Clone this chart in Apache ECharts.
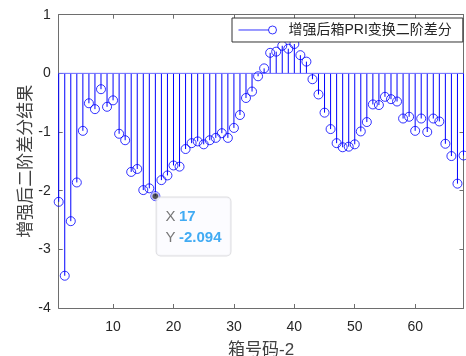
<!DOCTYPE html>
<html>
<head>
<meta charset="utf-8">
<script src="https://cdn.jsdelivr.net/npm/echarts@6/dist/echarts.min.js"></script>
<style>
  html, body { margin: 0; padding: 0; background: #fff; }
  #chart { width: 466px; height: 356px; }
</style>
</head>
<body>
<div id="chart"></div>
<script>
// Bin index (箱号码-2) and second-order difference of the enhanced box PRI transform
const binIndex = [];
for (let i = 1; i <= 68; i++) binIndex.push(i);

const diffValues = [
  -2.19, -3.45, -2.52, -1.86, -0.98, -0.51, -0.61, -0.27, -0.57, -0.46,
  -1.03, -1.14, -1.68, -1.63, -1.99, -1.96, -2.094, -1.82, -1.74, -1.57,
  -1.59, -1.29, -1.19, -1.16, -1.21, -1.14, -1.10, -1.02, -1.10, -0.93,
  -0.71, -0.42, -0.31, -0.05, 0.085, 0.35, 0.37, 0.47, 0.42, 0.50,
  0.31, 0.20, -0.10, -0.36, -0.67, -0.95, -1.19, -1.26, -1.25, -1.21,
  -0.99, -0.83, -0.53, -0.54, -0.40, -0.44, -0.48, -0.77, -0.74, -0.98,
  -0.77, -1.00, -0.77, -0.82, -1.20, -1.41, -1.88, -1.40
];

const xTicks = [10, 20, 30, 40, 50, 60];
const yTicks = [-4, -3, -2, -1, 0, 1];

const seriesName = '增强后箱PRI变换二阶差分';
const xTitle = '箱号码-2';
const yTitle = '增强后二阶差分结果';

// highlighted data tip
const tipIndex = 17;
const tipValue = diffValues[tipIndex - 1];

const stemColor = '#0000ff';
const baseColor = '#6a6aff';
const axisColor = '#6e6e6e';
const fontFamily = '"Liberation Sans", Arial, "Noto Sans CJK SC", sans-serif';

const points = binIndex.map((x, i) => [x, diffValues[i]]);
const baseline = [[binIndex[0], 0], [binIndex[binIndex.length - 1], 0]];

const chart = echarts.init(document.getElementById('chart'), null, { renderer: 'canvas' });

const axisCommon = {
  axisLine: { show: true, onZero: false, lineStyle: { color: axisColor, width: 1 } },
  splitLine: { show: false }
};

const option = {
  animation: false,
  backgroundColor: '#ffffff',
  grid: { left: 58.7, right: 2.5, top: 14.7, bottom: 48, outerBoundsMode: 'none', containLabel: false },
  legend: {
    data: [seriesName],
    left: 232,
    top: 18,
    padding: [5, 11, 5, 6],
    backgroundColor: '#ffffff',
    borderColor: '#333333',
    borderWidth: 1,
    borderRadius: 0,
    itemWidth: 38,
    itemHeight: 8,
    icon: 'path://M0,4L30,4M30,4A4,4,0,1,0,38,4A4,4,0,1,0,30,4',
    itemStyle: { color: 'rgba(0,0,0,0)', borderColor: stemColor, borderWidth: 1 },
    textStyle: { fontFamily: fontFamily, fontSize: 14, color: '#262626', padding: [0, 0, 0, 7] },
    selectedMode: false
  },
  xAxis: [
    Object.assign({
      type: 'value', min: 1, max: 68, position: 'bottom',
      name: xTitle, nameLocation: 'middle', nameGap: 34, nameMoveOverlap: false,
      nameTextStyle: { fontFamily: fontFamily, fontSize: 17, color: '#404040' },
      axisTick: { show: true, inside: true, length: 4, customValues: xTicks, lineStyle: { color: axisColor } },
      axisLabel: { show: true, customValues: xTicks, margin: 12, fontFamily: fontFamily, fontSize: 14, color: '#262626' }
    }, axisCommon),
    Object.assign({
      type: 'value', min: 1, max: 68, position: 'top',
      axisTick: { show: true, inside: true, length: 4, customValues: xTicks, lineStyle: { color: axisColor } },
      axisLabel: { show: false }
    }, axisCommon)
  ],
  yAxis: [
    Object.assign({
      type: 'value', min: -4, max: 1, interval: 1, position: 'left',
      name: yTitle, nameLocation: 'middle', nameGap: 24, nameRotate: 90, nameMoveOverlap: false,
      nameTextStyle: { fontFamily: fontFamily, fontSize: 17, color: '#404040' },
      axisTick: { show: true, inside: true, length: 4, customValues: yTicks, lineStyle: { color: axisColor } },
      axisLabel: { show: true, customValues: yTicks, margin: 8, fontFamily: fontFamily, fontSize: 14, color: '#262626' }
    }, axisCommon),
    Object.assign({
      type: 'value', min: -4, max: 1, interval: 1, position: 'right',
      axisTick: { show: true, inside: true, length: 4, customValues: yTicks, lineStyle: { color: axisColor } },
      axisLabel: { show: false }
    }, axisCommon)
  ],
  series: [
    {
      // zero baseline of the stem plot
      type: 'line',
      name: 'baseline',
      xAxisIndex: 0,
      yAxisIndex: 0,
      data: baseline,
      symbol: 'none',
      silent: true,
      itemStyle: { color: baseColor },
      lineStyle: { color: baseColor, width: 1 },
      z: 2
    },
    {
      // vertical stems from the zero baseline
      type: 'custom',
      name: 'stems',
      xAxisIndex: 0,
      yAxisIndex: 0,
      data: points,
      clip: true,
      silent: true,
      renderItem: function (params, api) {
        const base = api.coord([api.value(0), 0]);
        const tip = api.coord([api.value(0), api.value(1)]);
        return {
          type: 'line',
          shape: { x1: base[0], y1: base[1], x2: tip[0], y2: tip[1] },
          style: { stroke: stemColor, lineWidth: 1 }
        };
      }
    },
    {
      type: 'scatter',
      name: seriesName,
      xAxisIndex: 0,
      yAxisIndex: 0,
      data: points,
      clip: true,
      symbol: 'circle',
      symbolSize: 9,
      itemStyle: { color: 'rgba(0,0,0,0)', borderColor: stemColor, borderWidth: 1 },
      silent: true,
      z: 3
    },
    {
      // data tip on the selected bin
      type: 'scatter',
      name: 'datatip',
      xAxisIndex: 0,
      yAxisIndex: 0,
      data: [[tipIndex, tipValue]],
      symbol: 'circle',
      symbolSize: 7,
      itemStyle: { color: '#262626', borderColor: '#c8c8ff', borderWidth: 1.5 },
      silent: true,
      z: 10,
      label: {
        show: true,
        position: [5.5, 5.5],
        formatter: function () {
          return '{k|X} {v|' + tipIndex + '}\n{k|Y} {v|' + tipValue.toFixed(3) + '}';
        },
        backgroundColor: '#fbfbff',
        borderColor: '#d4d4d8',
        borderWidth: 1,
        borderRadius: 4,
        padding: [9, 9, 7, 9],
        lineHeight: 21,
        rich: {
          k: { fontFamily: fontFamily, fontSize: 15, color: '#555555', lineHeight: 21 },
          v: { fontFamily: fontFamily, fontSize: 15, fontWeight: 'bold', color: '#1296f0', lineHeight: 21 }
        }
      }
    }
  ]
};

chart.setOption(option);
</script>
</body>
</html>
